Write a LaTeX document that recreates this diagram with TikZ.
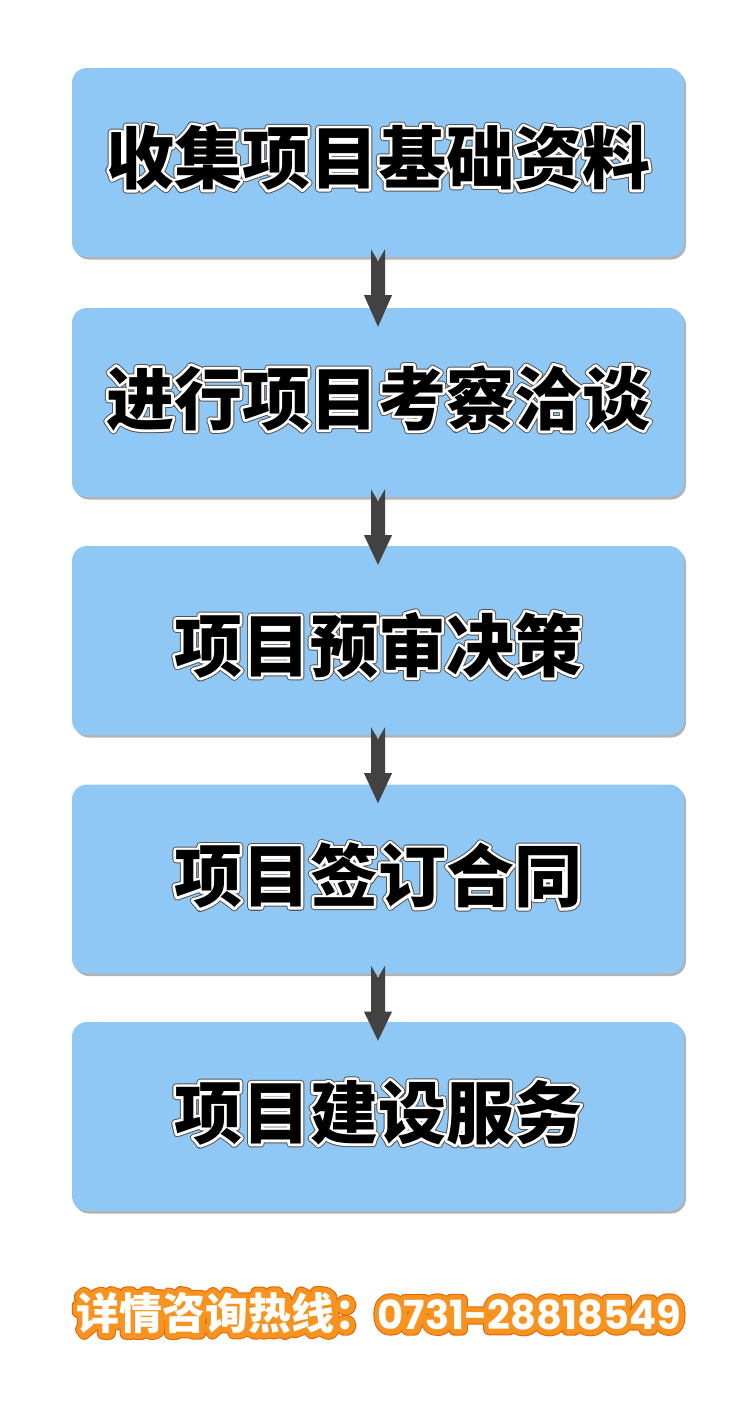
\documentclass[tikz,border=0pt]{standalone}
\usepackage{fontspec}
\newfontfamily\cjk{Noto Sans CJK SC}
\newfontfamily\digitfont{Poppins}
\usetikzlibrary{shadows}
\definecolor{boxblue}{HTML}{8FC8F5}
\definecolor{arrowgray}{HTML}{424242}
\definecolor{ringdark}{HTML}{555555}
\definecolor{orangering}{HTML}{F7931E}
\definecolor{orangedark}{HTML}{E0660A}
\tikzset{
  stepbox/.style={draw=none, fill=boxblue, rounded corners=15pt,
    minimum width=612pt, minimum height=189pt, inner sep=0pt,
    drop shadow={shadow xshift=2pt, shadow yshift=-2.5pt, fill=black!60, opacity=0.5}},
  titletxt/.style={font=\cjk\bfseries\fontsize{68}{68}\selectfont, inner sep=0pt},
  foottxt/.style={font=\cjk\bfseries\fontsize{43}{43}\selectfont, inner sep=0pt},
  arrowshape/.style={fill=arrowgray, draw=none},
}
\newcommand\strk[2]{\special{pdf:literal direct 1 Tr #1 w 1 j 1 J}#2\special{pdf:literal direct 0 Tr}}
\newcommand\outlinedtitle[3]{%
  \node[titletxt, text=ringdark] at (#1) {\strk{7.4}{#3}};
  \node[titletxt, text=white] at (#1) {\strk{5.4}{#3}};
  \node[titletxt, text=black] (#2) at (#1) {#3};
}
\newcommand\outlinedfoot[3]{%
  \node[foottxt, text=orangedark] at (#1) {\strk{12.5}{#3}};
  \node[foottxt, text=orangering] at (#1) {\strk{10.5}{#3}};
  \node[foottxt, text=white] (#2) at (#1) {#3};
}
\newcommand\steparrow[2]{%
  \fill[arrowshape] ([shift={(-7,-8)}]#1.south) -- ([shift={(0,4)}]#1.south) -- ([shift={(7,-8)}]#1.south)
    -- ([shift={(7,38)}]#1.south) -- ([shift={(14,38)}]#1.south) -- ([shift={(0,19)}]#2.north)
    -- ([shift={(-14,38)}]#1.south) -- ([shift={(-7,38)}]#1.south) -- cycle;
}
\begin{document}
\begin{tikzpicture}[x=1pt,y=-1pt]
  \useasboundingbox[fill=white] (0,0) rectangle (755,1414);
  \node[stepbox] (b1) at (378,162.5) {};
  \node[stepbox] (b2) at (378,402.5) {};
  \node[stepbox] (b3) at (378,640.5) {};
  \node[stepbox] (b4) at (378,879) {};
  \node[stepbox] (b5) at (378,1116.5) {};
  \steparrow{b1}{b2}
  \steparrow{b2}{b3}
  \steparrow{b3}{b4}
  \steparrow{b4}{b5}
  \coordinate (t1) at (378,157.5);
  \coordinate (t2) at (378,398);
  \coordinate (t3) at (378,645);
  \coordinate (t4) at (378,875.5);
  \coordinate (t5) at (378,1112.5);
  \coordinate (tf) at (379,1313);
  \outlinedtitle{t1}{l1}{收集项目基础资料}
  \outlinedtitle{t2}{l2}{进行项目考察洽谈}
  \outlinedtitle{t3}{l3}{项目预审决策}
  \outlinedtitle{t4}{l4}{项目签订合同}
  \outlinedtitle{t5}{l5}{项目建设服务}
  \outlinedfoot{tf}{lf}{详情咨询热线：{\digitfont\fontsize{40}{40}\selectfont 0731-28818549}}
\end{tikzpicture}
\end{document}
